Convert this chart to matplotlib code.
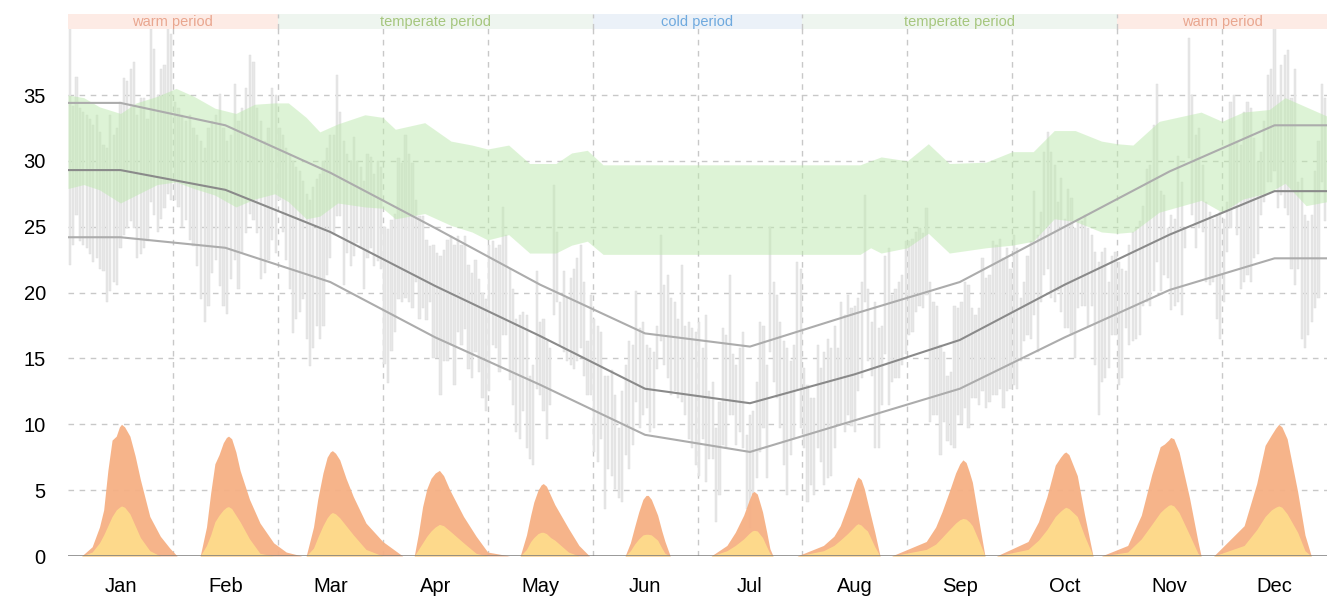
import matplotlib.pyplot as plt
import numpy as np

plt.rcParams['font.family'] = ['Liberation Sans', 'DejaVu Sans']

months = ['Jan', 'Feb', 'Mar', 'Apr', 'May', 'Jun', 'Jul', 'Aug', 'Sep', 'Oct', 'Nov', 'Dec']

# daily max / min temperature per month
daily_hi = [
    [40.8, 34.2, 36.4, 34.0, 33.7, 33.5, 33.2, 32.7, 33.5, 32.2, 31.2, 31.0, 33.5, 32.0, 32.5, 34.5,
     36.3, 36.1, 37.0, 37.5, 33.5, 34.8, 34.8, 33.2, 40.0, 38.5, 35.0, 37.0, 37.3, 40.2, 39.6],
    [34.5, 34.0, 33.5, 33.0, 33.5, 32.5, 32.0, 31.5, 31.0, 32.5, 33.0, 33.5, 35.1, 32.5, 31.5, 32.0,
     35.8, 33.0, 34.0, 35.5, 38.0, 37.5, 34.0, 33.0, 31.5, 32.5, 35.5, 35.0],
    [32.5, 32.0, 31.0, 30.5, 30.0, 29.5, 29.2, 28.5, 27.5, 27.0, 28.0, 28.6, 29.0, 30.0, 31.0, 32.0,
     32.0, 36.5, 33.7, 31.5, 30.5, 30.0, 31.8, 30.0, 29.5, 28.5, 30.5, 30.3, 29.0, 30.0, 29.5],
    [25.0, 24.8, 25.5, 26.0, 30.2, 29.8, 32.0, 30.5, 29.8, 27.0, 25.8, 25.8, 24.0, 23.5, 23.6, 23.0,
     22.8, 23.2, 24.0, 24.3, 23.6, 24.3, 23.6, 24.3, 22.1, 21.5, 22.5, 21.0, 20.0, 19.5],
    [23.6, 23.9, 23.4, 23.6, 26.5, 24.4, 21.8, 20.3, 18.0, 18.3, 18.5, 18.3, 13.7, 14.5, 21.6, 17.8,
     18.0, 16.3, 15.8, 28.2, 24.6, 19.3, 21.6, 19.6, 21.1, 21.8, 22.6, 23.6, 20.8, 16.3, 19.8],
    [18.0, 17.5, 17.0, 13.7, 13.7, 14.1, 12.2, 9.7, 12.5, 14.5, 16.3, 16.0, 20.1, 17.3, 17.8, 16.0,
     15.8, 15.5, 17.5, 24.4, 20.6, 21.3, 19.6, 19.3, 18.0, 22.1, 17.5, 17.8, 17.3, 17.0],
    [17.8, 15.8, 18.3, 12.5, 13.2, 9.7, 11.7, 17.3, 16.8, 21.3, 15.3, 14.5, 15.8, 17.0, 9.2, 10.7,
     11.0, 13.2, 17.8, 17.5, 14.5, 25.0, 20.8, 19.8, 17.8, 16.3, 15.8, 14.8, 16.0, 22.3, 21.8],
    [14.3, 13.0, 12.0, 12.0, 16.0, 14.3, 15.5, 16.5, 15.8, 17.5, 15.8, 19.3, 18.3, 19.8, 18.8, 19.0,
     19.6, 20.8, 27.4, 20.3, 17.8, 19.3, 17.3, 17.5, 22.8, 23.4, 19.8, 20.3, 20.8, 21.3, 23.9],
    [23.9, 24.1, 24.6, 24.9, 24.5, 26.4, 20.8, 19.3, 19.0, 16.0, 15.5, 13.7, 14.0, 19.0, 18.8, 19.3,
     20.8, 20.6, 18.8, 18.3, 18.8, 22.6, 21.1, 21.3, 23.9, 23.6, 24.1, 22.6, 23.4, 21.8],
    [24.4, 23.4, 19.6, 20.8, 22.8, 23.9, 27.7, 24.4, 26.1, 30.7, 32.2, 30.7, 29.7, 26.9, 28.7, 25.6,
     27.9, 27.2, 24.9, 25.6, 25.4, 25.9, 24.9, 24.4, 23.1, 22.3, 23.1, 23.4, 20.8, 22.8, 23.1],
    [22.3, 21.8, 21.6, 23.6, 24.6, 24.9, 25.4, 26.6, 29.4, 29.7, 32.7, 35.8, 27.7, 27.4, 24.9, 25.9,
     25.6, 30.4, 28.4, 24.9, 39.3, 35.0, 32.0, 32.5, 29.7, 26.9, 26.1, 25.6, 25.9, 26.1],
    [25.6, 26.9, 34.5, 35.0, 31.5, 31.2, 33.7, 34.5, 34.0, 31.7, 29.9, 30.7, 33.0, 36.5, 37.0, 40.6,
     35.0, 37.3, 38.0, 38.4, 34.8, 37.0, 28.4, 28.7, 25.9, 25.4, 25.9, 29.2, 31.5, 35.8, 34.8],
]
daily_lo = [
    [22.1, 23.6, 25.9, 23.9, 23.6, 23.4, 22.9, 22.3, 22.6, 21.8, 21.6, 19.3, 20.1, 20.8, 20.6, 23.4,
     24.4, 24.9, 25.4, 24.9, 22.6, 22.9, 23.4, 23.9, 26.9, 25.9, 24.6, 25.6, 26.4, 27.5, 27.0],
    [27.0, 26.5, 25.0, 25.5, 24.0, 23.5, 22.0, 19.5, 17.8, 19.0, 21.5, 22.5, 20.5, 19.0, 18.4, 21.0,
     22.5, 20.3, 23.0, 24.5, 26.0, 25.5, 24.5, 21.0, 21.5, 22.5, 24.0, 23.0],
    [27.0, 24.6, 22.5, 20.3, 16.9, 18.0, 18.5, 19.5, 16.5, 14.4, 15.8, 17.5, 16.5, 17.5, 21.3, 22.6,
     24.4, 25.8, 25.8, 20.6, 23.0, 22.0, 22.8, 23.8, 23.4, 20.3, 22.6, 23.4, 22.0, 22.4, 21.8],
    [14.6, 13.1, 15.6, 17.0, 19.5, 19.3, 19.6, 19.3, 18.8, 20.8, 18.0, 18.8, 17.9, 19.3, 15.0, 15.0,
     12.2, 14.8, 14.8, 16.0, 13.0, 17.0, 16.0, 17.2, 14.2, 13.5, 15.5, 14.0, 12.0, 11.0],
    [12.5, 16.0, 15.8, 14.0, 16.8, 16.8, 13.4, 11.5, 9.4, 8.9, 11.0, 8.2, 7.4, 6.9, 12.7, 12.2,
     11.0, 8.9, 11.5, 18.3, 19.3, 16.0, 15.5, 14.8, 14.5, 14.2, 14.8, 15.8, 13.7, 12.2, 12.2],
    [7.9, 7.1, 8.9, 3.6, 6.6, 6.1, 5.1, 4.4, 4.1, 7.7, 6.6, 8.4, 11.7, 9.7, 10.7, 11.2,
     9.4, 9.7, 14.2, 16.3, 14.5, 13.5, 12.2, 12.5, 12.0, 11.7, 10.7, 8.9, 8.2, 6.9],
    [6.1, 8.9, 5.6, 7.4, 7.4, 2.6, 4.6, 8.4, 8.2, 10.7, 10.7, 8.4, 9.4, 8.2, 3.6, 2.1,
     4.6, 5.9, 7.9, 9.7, 5.9, 15.5, 13.2, 12.0, 9.7, 6.9, 4.6, 7.7, 8.9, 12.7, 9.7],
    [8.2, 4.1, 5.4, 4.6, 8.2, 7.1, 5.4, 5.9, 6.1, 8.2, 10.0, 10.0, 9.4, 10.7, 9.9, 9.4,
     12.5, 13.5, 19.3, 14.8, 13.7, 8.2, 8.2, 11.5, 15.3, 11.5, 13.2, 13.5, 13.5, 14.5, 15.3],
    [16.8, 17.0, 18.5, 19.0, 18.8, 19.8, 10.2, 10.7, 10.7, 7.7, 10.2, 8.7, 8.4, 8.2, 10.7, 10.0,
     11.2, 9.7, 12.0, 12.0, 11.5, 12.5, 11.2, 11.7, 12.2, 12.2, 12.7, 11.2, 12.5, 12.7],
    [13.0, 12.7, 14.8, 16.3, 16.8, 16.5, 18.3, 15.5, 19.3, 21.3, 21.8, 19.6, 19.3, 20.1, 18.5, 17.3,
     17.3, 16.8, 15.0, 18.8, 19.0, 19.0, 17.5, 19.0, 14.5, 10.7, 13.2, 13.5, 14.3, 16.8, 16.8],
    [13.0, 13.5, 17.3, 16.0, 16.3, 16.5, 16.8, 19.0, 19.3, 19.0, 20.1, 22.3, 20.1, 21.3, 21.1, 18.7,
     19.0, 19.3, 18.3, 23.4, 30.2, 25.9, 23.4, 24.9, 24.6, 20.8, 20.6, 20.8, 18.0, 16.5],
    [19.3, 23.1, 24.9, 26.4, 24.4, 20.3, 20.8, 21.3, 20.8, 22.6, 22.9, 25.9, 26.9, 28.4, 28.4, 29.2,
     26.4, 27.4, 26.4, 25.9, 21.8, 20.6, 21.8, 16.5, 15.8, 16.8, 17.8, 18.8, 19.6, 28.4, 25.4],
]

# monthly averages (high, mean, low)
avg_high = [34.4, 32.7, 29.1, 24.9, 20.6, 16.9, 15.9, 18.4, 20.8, 25.0, 29.2, 32.7]
avg_mean = [29.3, 27.8, 24.6, 20.5, 16.7, 12.7, 11.6, 13.8, 16.4, 20.6, 24.4, 27.7]
avg_low = [24.2, 23.4, 20.8, 16.6, 13.0, 9.2, 7.9, 10.3, 12.7, 16.6, 20.2, 22.6]

# comfort zone, position in months
comfort_pos = [0.0, 0.15, 0.3, 0.5, 0.65, 0.85, 1.03, 1.2, 1.4, 1.6, 1.78, 1.97, 2.1, 2.27, 2.4,
               2.57, 2.83, 3.0, 3.12, 3.4, 3.65, 3.85, 4.0, 4.2, 4.4, 4.65, 4.8, 4.95, 5.1, 7.55,
               7.65, 7.75, 8.0, 8.2, 8.4, 8.75, 9.0, 9.2, 9.4, 9.6, 9.85, 10.0, 10.15, 10.4, 10.8,
               11.0, 11.2, 11.45, 11.6, 11.8, 12.0]
comfort_hi = [35.0, 34.8, 34.1, 33.6, 34.4, 34.9, 35.5, 34.9, 34.0, 33.6, 34.3, 34.4, 34.4, 33.3,
              32.2, 32.8, 33.5, 33.3, 32.4, 32.9, 31.5, 31.2, 30.9, 31.2, 29.8, 29.8, 30.6, 30.8,
              29.7, 29.7, 30.0, 30.3, 30.0, 31.3, 29.8, 29.9, 30.7, 30.7, 32.3, 32.3, 31.5, 31.3,
              31.2, 33.0, 33.7, 33.0, 33.7, 33.9, 34.8, 34.1, 33.4]
comfort_lo = [27.9, 28.2, 27.8, 26.8, 27.4, 28.2, 28.4, 27.9, 27.4, 26.5, 27.1, 27.5, 26.9, 25.6,
              25.8, 26.8, 26.5, 26.4, 25.6, 26.0, 25.1, 24.6, 24.0, 24.4, 23.0, 23.0, 23.6, 23.9,
              22.9, 22.9, 23.4, 23.0, 23.4, 24.5, 23.0, 23.4, 23.6, 23.9, 25.6, 25.4, 24.6, 24.5,
              24.6, 26.1, 27.0, 26.1, 27.1, 27.6, 28.3, 26.6, 26.9]

# radiation curves per month: position inside the month, total and diffuse
sun_pos = [
    [0.13, 0.23, 0.30, 0.34, 0.38, 0.42, 0.46, 0.49, 0.51, 0.54, 0.59, 0.64, 0.69, 0.78, 0.88, 0.97, 1.04],
    [0.26, 0.32, 0.36, 0.40, 0.44, 0.48, 0.51, 0.53, 0.56, 0.60, 0.64, 0.73, 0.83, 0.96, 1.08, 1.23],
    [0.27, 0.34, 0.38, 0.43, 0.47, 0.50, 0.52, 0.55, 0.59, 0.65, 0.72, 0.84, 1.00, 1.19],
    [0.30, 0.34, 0.38, 0.42, 0.46, 0.50, 0.54, 0.58, 0.64, 0.77, 0.89, 1.00, 1.21],
    [0.31, 0.37, 0.41, 0.44, 0.48, 0.51, 0.53, 0.56, 0.60, 0.64, 0.77, 0.87, 0.97],
    [0.31, 0.36, 0.40, 0.44, 0.48, 0.51, 0.53, 0.56, 0.59, 0.62, 0.66, 0.69, 0.74],
    [0.13, 0.28, 0.36, 0.44, 0.49, 0.52, 0.54, 0.57, 0.60, 0.62, 0.66, 0.69, 0.72],
    [-0.05, 0.20, 0.30, 0.36, 0.43, 0.48, 0.51, 0.53, 0.56, 0.59, 0.62, 0.69, 0.74],
    [-0.15, 0.18, 0.27, 0.33, 0.40, 0.46, 0.50, 0.53, 0.56, 0.59, 0.62, 0.69, 0.74],
    [-0.15, 0.15, 0.25, 0.33, 0.41, 0.46, 0.49, 0.51, 0.54, 0.58, 0.62, 0.69, 0.77],
    [-0.15, 0.10, 0.23, 0.33, 0.41, 0.45, 0.49, 0.51, 0.54, 0.59, 0.69, 0.77, 0.80],
    [-0.08, 0.21, 0.33, 0.41, 0.47, 0.51, 0.54, 0.57, 0.62, 0.72, 0.79, 0.85],
]
sun_total = [
    [0, 0.7, 2.2, 3.5, 6.5, 8.8, 9.1, 9.8, 10.0, 9.8, 9.1, 7.6, 5.8, 3.0, 1.5, 0.6, 0],
    [0, 2.2, 4.8, 7.0, 7.7, 8.6, 9.0, 9.1, 8.9, 7.9, 6.5, 4.3, 2.5, 1.0, 0.3, 0],
    [0, 2.2, 4.3, 6.3, 7.5, 7.9, 8.0, 7.8, 7.3, 5.9, 4.5, 2.5, 1.1, 0],
    [0, 1.7, 3.75, 5.1, 5.9, 6.3, 6.5, 6.1, 5.0, 3.0, 1.5, 0.3, 0],
    [0, 1.6, 3.1, 4.1, 5.0, 5.4, 5.5, 5.3, 4.6, 3.9, 2.1, 0.8, 0],
    [0, 1.0, 2.2, 3.35, 4.3, 4.6, 4.6, 4.3, 3.7, 3.1, 1.9, 1.1, 0],
    [0, 0.8, 1.8, 3.1, 4.2, 4.8, 4.9, 4.7, 3.9, 3.35, 1.8, 0.56, 0],
    [0, 0.8, 1.5, 2.3, 3.8, 5.0, 5.7, 6.0, 5.8, 5.1, 4.1, 1.8, 0],
    [0, 1.1, 2.2, 3.35, 4.9, 6.3, 7.0, 7.3, 7.1, 6.4, 5.6, 2.3, 0],
    [0, 1.1, 2.6, 4.5, 6.9, 7.5, 7.8, 7.9, 7.7, 6.9, 6.1, 3.1, 0],
    [0, 0.8, 3.1, 6.2, 8.3, 8.5, 8.8, 9.0, 8.9, 7.9, 4.4, 1.1, 0],
    [0, 2.3, 5.5, 8.4, 9.2, 9.7, 10.0, 9.8, 8.9, 4.9, 1.6, 0],
]
sun_diffuse = [
    [0, 0.3, 1.0, 1.6, 2.3, 3.0, 3.5, 3.7, 3.8, 3.7, 3.2, 2.3, 1.4, 0.4, 0, 0, 0],
    [0, 0.8, 1.6, 2.6, 3.1, 3.5, 3.7, 3.75, 3.6, 3.1, 2.6, 1.3, 0.2, 0, 0, 0],
    [0, 0.6, 1.4, 2.3, 2.9, 3.2, 3.3, 3.2, 2.9, 2.3, 1.6, 0.5, 0, 0],
    [0, 0.5, 1.0, 1.5, 1.9, 2.2, 2.4, 2.3, 1.9, 1.0, 0.2, 0, 0],
    [0, 0.5, 1.1, 1.4, 1.7, 1.8, 1.8, 1.7, 1.4, 1.2, 0.3, 0, 0],
    [0, 0.4, 0.9, 1.3, 1.6, 1.65, 1.65, 1.6, 1.4, 1.2, 0.6, 0.2, 0],
    [0, 0.4, 0.8, 1.3, 1.7, 1.9, 1.95, 1.9, 1.6, 1.4, 0.7, 0.2, 0],
    [0, 0.4, 0.8, 1.2, 1.7, 2.1, 2.35, 2.45, 2.35, 2.1, 1.9, 0.7, 0],
    [0, 0.5, 0.9, 1.4, 2.0, 2.5, 2.75, 2.85, 2.8, 2.6, 2.3, 1.0, 0],
    [0, 0.5, 1.2, 2.0, 3.0, 3.4, 3.6, 3.7, 3.6, 3.3, 3.0, 1.5, 0],
    [0, 0.3, 1.3, 2.4, 3.3, 3.6, 3.85, 3.9, 3.8, 3.3, 1.6, 0.2, 0],
    [0, 0.8, 2.0, 3.0, 3.5, 3.7, 3.8, 3.7, 3.2, 1.8, 0.4, 0],
]

periods = ['warm period', 'temperate period', 'cold period', 'temperate period', 'warm period']
period_start = [0, 2, 5, 7, 10]
period_end = [2, 5, 7, 10, 12]
period_bg = {'warm period': '#fdebe5', 'temperate period': '#eef5ef', 'cold period': '#ebf1f8'}
period_fg = {'warm period': '#e9a68f', 'temperate period': '#a5c67d', 'cold period': '#6ea9de'}

fig = plt.figure(figsize=(13.27, 6.04), dpi=100)
ax = fig.add_axes([68 / 1327, 48 / 604, 1 - 68 / 1327, 542 / 604])
ax.set_xlim(0, 12)
ax.set_ylim(0, 41.15)

# grid
for v in range(5, 40, 5):
    ax.axhline(v, color='#c8c8c8', lw=1, ls=(0, (4, 4)), zorder=1)
for m in range(1, 12):
    ax.axvline(m, color='#c8c8c8', lw=1, ls=(0, (4, 4)), zorder=1)

# daily temperature range bars
for m in range(12):
    n = len(daily_hi[m])
    x = m + (np.arange(n) + 0.5) / n
    hi = np.array(daily_hi[m])
    lo = np.array(daily_lo[m])
    ax.bar(x, hi - lo, bottom=lo, width=0.62 / n, color='#e7e7e7',
           edgecolor='#dadada', linewidth=0.3, zorder=2)

# comfort band
ax.fill_between(comfort_pos, comfort_lo, comfort_hi, color='#bde9ae', alpha=0.5, lw=0, zorder=3)

# radiation curves
for m in range(12):
    px = m + np.array(sun_pos[m])
    ax.fill_between(px, 0, sun_total[m], color='#f6b084', alpha=0.95, lw=0, zorder=4)
    ax.fill_between(px, 0, sun_diffuse[m], color='#fedc8c', alpha=0.95, lw=0, zorder=5)

# monthly average lines
cx = [0] + [m + 0.5 for m in range(12)] + [12]
ax.plot(cx, [avg_high[0]] + avg_high + [avg_high[-1]], color='#acacac', lw=1.5, zorder=6)
ax.plot(cx, [avg_low[0]] + avg_low + [avg_low[-1]], color='#acacac', lw=1.5, zorder=6)
ax.plot(cx, [avg_mean[0]] + avg_mean + [avg_mean[-1]], color='#8a8a8a', lw=1.5, zorder=6)

# periods along the top
for name, s, e in zip(periods, period_start, period_end):
    ax.fill_between([s, e], 40.0, 41.15, color=period_bg[name], lw=0, zorder=7)
    ax.text((s + e) / 2, 40.57, name, ha='center', va='center', fontsize=10.5,
            color=period_fg[name], zorder=8)
for s in period_start[1:]:
    ax.plot([s, s], [40.0, 41.15], color='#c8c8c8', lw=1, ls=(0, (4, 4)), zorder=8)

ax.axhline(0, color='#7a7a7a', lw=1.8, zorder=9)

for side in ['top', 'right', 'left', 'bottom']:
    ax.spines[side].set_visible(False)
ax.set_yticks(range(0, 40, 5))
ax.set_yticklabels([str(v) for v in range(0, 40, 5)], fontsize=14.5)
ax.set_xticks([m + 0.5 for m in range(12)])
ax.set_xticklabels(months, fontsize=14.5)
ax.tick_params(axis='y', length=0, pad=16)
ax.tick_params(axis='x', length=0, pad=15)

fig.savefig('out.png', dpi=100)
